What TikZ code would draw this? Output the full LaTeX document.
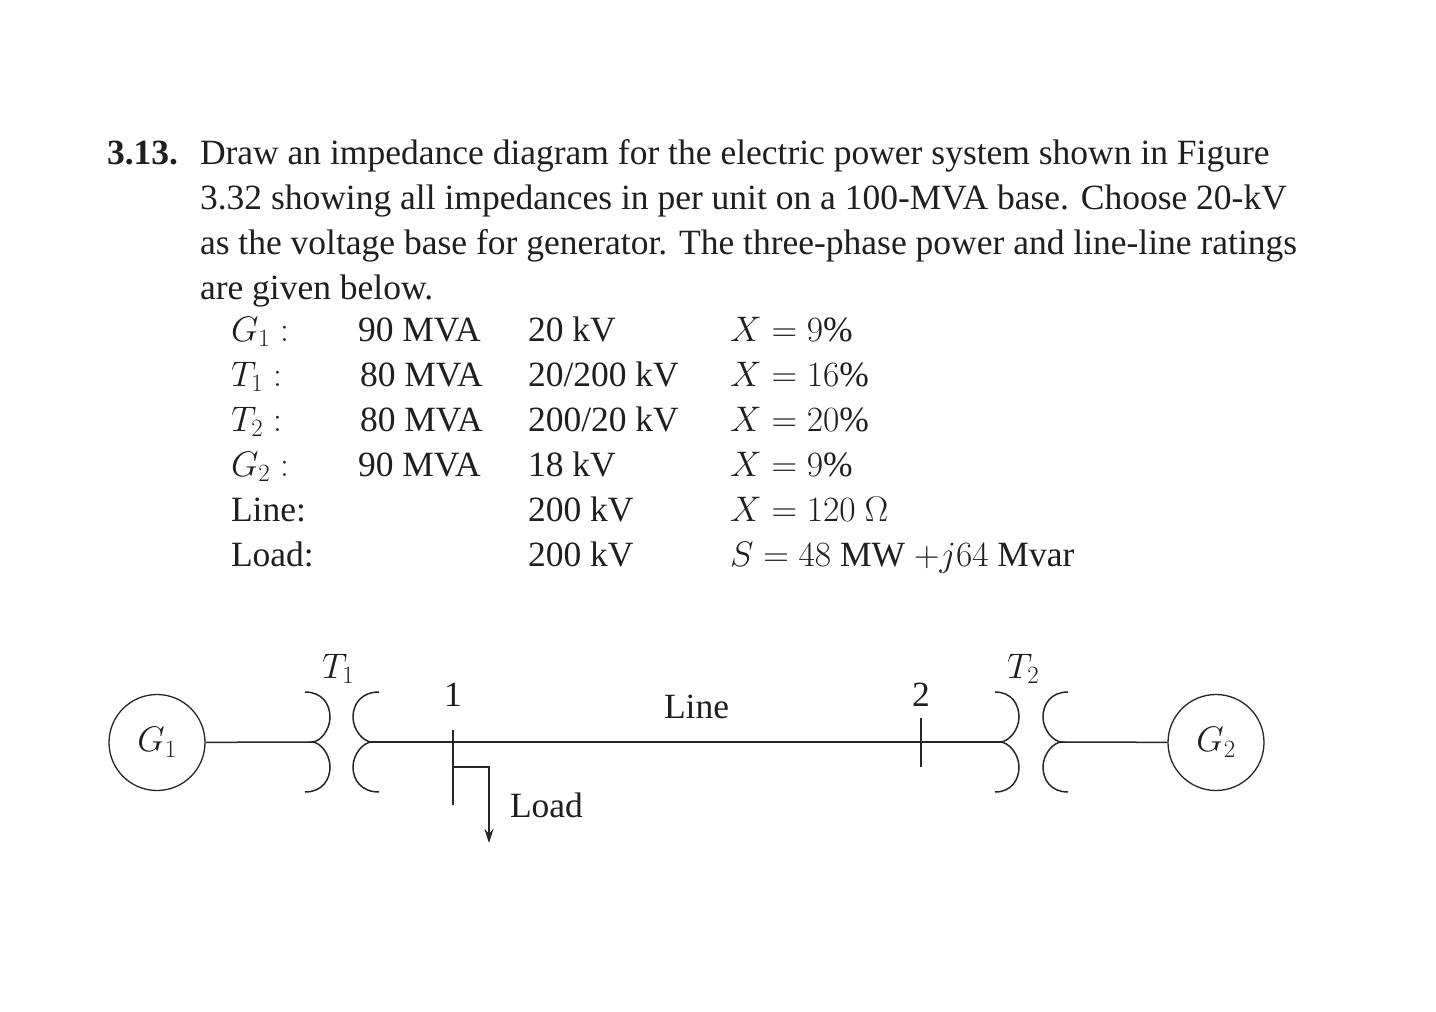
\documentclass[tikz,border=0pt]{standalone}
\usepackage{fix-cm}
\usepackage{fontspec}
\setmainfont{Liberation Serif}
\usetikzlibrary{arrows.meta}
\newcommand{\xfarcs}[4]{% #1 tip name, #2 bulge x, #3 open x, #4 inner x
  \draw[wire] (#3,692) .. controls ({#3+(#2-#3)*0.68},692) and (#2,704) .. (#2,717)
    .. controls (#2,730) and ({#2+(#4-#2)*0.55},742) .. (#1)
    .. controls ({#2+(#4-#2)*0.55},742) and (#2,754) .. (#2,767)
    .. controls (#2,780) and ({#3+(#2-#3)*0.68},792) .. (#3,792);}
\tikzset{
  txt/.style={anchor=base west,inner sep=0pt,outer sep=0pt,text=black!88,font=\fontsize{35.5}{44}\selectfont},
  gen/.style={draw=black!85,line width=1.3pt,circle,minimum size=96pt,inner sep=0pt,text=black!88,font=\fontsize{35.5}{44}\selectfont},
  wire/.style={draw=black!85,line width=1.5pt},
}
\begin{document}
\begin{tikzpicture}[x=1pt,y=-1pt]
\useasboundingbox[fill=white] (0,0) rectangle (1436,1012);
% problem statement
\node[txt] (num) at (107,164) {\textbf{3.13.}};
\node[txt] (l1) at (200,164) {Draw an impedance diagram for the electric power system shown in Figure};
\node[txt] (l2) at (200,209) {3.32 showing all impedances in per unit on a 100-MVA base. Choose 20-kV};
\node[txt] (l3) at (200,254) {as the voltage base for generator. The three-phase power and line-line ratings};
\node[txt] (l4) at (200,299) {are given below.};
% table
\node[txt] (a1) at (231,341) {$G_1:$};
\node[txt] (a2) at (231,386) {$T_1:$};
\node[txt] (a3) at (231,431) {$T_2:$};
\node[txt] (a4) at (231,476) {$G_2:$};
\node[txt] (a5) at (231,521) {Line:};
\node[txt] (a6) at (231,566) {Load:};
\node[txt] (b1) at (358,341) {90 MVA};
\node[txt] (b2) at (360,386) {80 MVA};
\node[txt] (b3) at (360,431) {80 MVA};
\node[txt] (b4) at (358,476) {90 MVA};
\node[txt] (c1) at (528,341) {20 kV};
\node[txt] (c2) at (528,386) {20/200 kV};
\node[txt] (c3) at (528,431) {200/20 kV};
\node[txt] (c4) at (528,476) {18 kV};
\node[txt] (c5) at (528,521) {200 kV};
\node[txt] (c6) at (528,566) {200 kV};
\node[txt] (d1) at (730,341) {$X=9\%$};
\node[txt] (d2) at (730,386) {$X=16\%$};
\node[txt] (d3) at (730,431) {$X=20\%$};
\node[txt] (d4) at (730,476) {$X=9\%$};
\node[txt] (d5) at (730,521) {$X=120\ \Omega$};
\node[txt] (d6) at (730,566) {$S=48$ MW $+j64$ Mvar};
% diagram
\node[gen] (G1) at (157,742.5) {$G_1$};
\node[gen] (G2) at (1216,742.5) {$G_2$};
\coordinate (t1p) at (312,742);
\coordinate (t1s) at (372,742);
\coordinate (t2p) at (1000,742);
\coordinate (t2s) at (1062,742);
\coordinate (b1t) at (453,730);
\coordinate (b1b) at (453,805);
\coordinate (b2t) at (921,718);
\coordinate (b2b) at (921,767);
\coordinate (lda) at (453,767);
\coordinate (ldb) at (489,767);
\coordinate (ldc) at (489,843);
\xfarcs{t1p}{330}{305}{312}
\xfarcs{t1s}{353}{379}{372}
\xfarcs{t2p}{1019}{995}{1000}
\xfarcs{t2s}{1043}{1068}{1062}
\draw[wire] (G1) -- (t1p);
\draw[wire] (t1s) -- (t2p);
\draw[wire] (t2s) -- (G2);
\draw[wire] (b1t) -- (b1b);
\draw[wire] (b2t) -- (b2b);
\draw[wire,-{Stealth[length=14pt,width=9pt]}] (lda) -- (ldb) -- (ldc);
\node[txt] (T1) at (322,678) {$T_1$};
\node[txt] (T2) at (1007,678) {$T_2$};
\node[txt] (n1) at (444,706) {1};
\node[txt] (n2) at (912,706) {2};
\node[txt] (ln) at (664,718) {Line};
\node[txt] (ld) at (510,817) {Load};
\end{tikzpicture}
\end{document}
